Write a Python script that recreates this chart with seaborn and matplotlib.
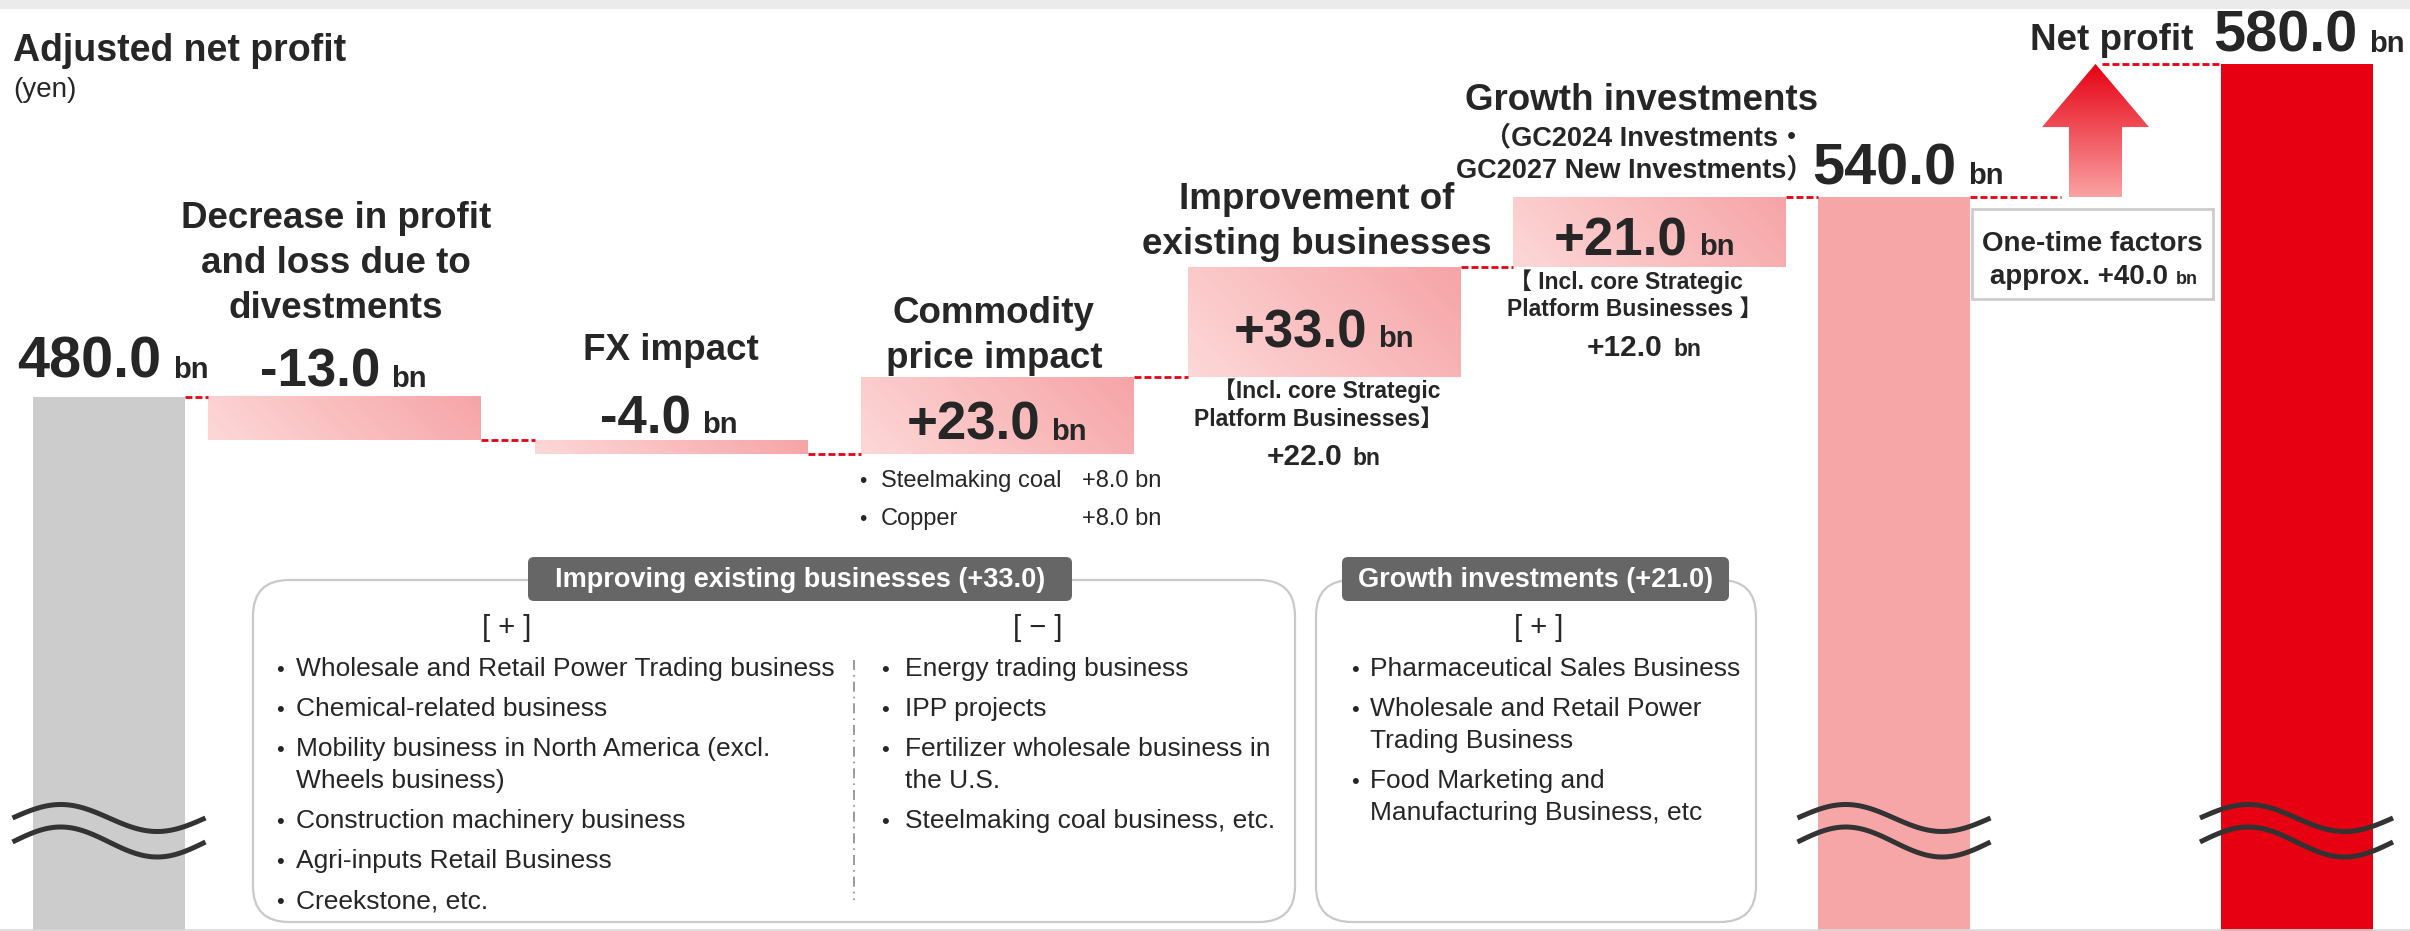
import numpy as np
import pandas as pd
import matplotlib
matplotlib.use("Agg")
import matplotlib.pyplot as plt
from matplotlib.patches import Rectangle, Polygon, FancyBboxPatch
import seaborn as sns

# ---- data (bn yen) ----
start_value = 480.0
step_labels = ["Decrease in profit\nand loss due to\ndivestments", "FX impact",
               "Commodity\nprice impact", "Improvement of\nexisting businesses",
               "Growth investments"]
step_values = [-13.0, -4.0, 23.0, 33.0, 21.0]
mid_value = 540.0
one_time_value = 40.0
end_value = 580.0

commodity_items = ["Steelmaking coal", "Copper"]
commodity_values = [8.0, 8.0]
core_platform_values = [22.0, 12.0]   # improvement / growth investments

improving_plus = ["Wholesale and Retail Power Trading business",
                  "Chemical-related business",
                  "Mobility business in North America (excl.\nWheels business)",
                  "Construction machinery business",
                  "Agri-inputs Retail Business",
                  "Creekstone, etc."]
improving_minus = ["Energy trading business",
                   "IPP projects",
                   "Fertilizer wholesale business in\nthe U.S.",
                   "Steelmaking coal business, etc."]
growth_plus = ["Pharmaceutical Sales Business",
               "Wholesale and Retail Power\nTrading Business",
               "Food Marketing and\nManufacturing Business, etc"]

# ---- layout / style ----
W, H = 2410, 931
TXT = "#262626"
RED = "#e60012"
PINK = "#f7a6a8"
GRAY = "#cccccc"
LO = np.array([253, 216, 216]) / 255
HI = np.array([246, 164, 166]) / 255
YLIM = (319.6, 599.2)
PPU = H / (YLIM[1] - YLIM[0])

total_x = [109, 1894, 2296.5]
total_w = 152
step_left = [208, 535, 861, 1188, 1513]
step_w = 273
arrow_x = 2095.5


def ypx(v):
    # pixel row (from top) of a value on the bar axis, used to hang labels on bars
    return (YLIM[1] - v) * PPU


sns.set_theme(style="white")
plt.rcParams["font.family"] = ["Liberation Sans", "Noto Sans CJK JP"]

fig = plt.figure(figsize=(W / 100, H / 100), dpi=100)
ax = fig.add_axes([0, 0, 1, 1])

# total bars
totals = pd.DataFrame({"x": total_x,
                       "value": [start_value, mid_value, end_value],
                       "kind": ["start", "mid", "end"]})
gap = min(np.diff(sorted(total_x)))
sns.barplot(data=totals, x="x", y="value", hue="kind", native_scale=True,
            palette={"start": GRAY, "mid": PINK, "end": RED}, width=total_w / gap,
            dodge=False, legend=False, errorbar=None, saturation=1, linewidth=0, ax=ax)


def gradient(x0, x1, y0, y1, lo, hi, diag=True, clip=None):
    nx = max(int(abs(x1 - x0)), 2)
    ny = max(int(abs(y1 - y0) * PPU), 2)
    gx = np.linspace(0, nx, nx)[None, :]
    gy = np.linspace(0, ny, ny)[:, None]
    g = (gx + gy) / (nx + ny) if diag else gy / ny + 0 * gx
    img = lo + (hi - lo) * g[..., None]
    im = ax.imshow(img, extent=[x0, x1, min(y0, y1), max(y0, y1)], origin="lower",
                   aspect="auto", interpolation="bilinear", zorder=3)
    if clip is not None:
        im.set_clip_path(clip)


# step bars
levels = start_value + np.concatenate([[0], np.cumsum(step_values)])
ax.bar(step_left, step_values, bottom=levels[:-1], width=step_w, align="edge",
       color=PINK, linewidth=0, zorder=2)
for x0, b, v in zip(step_left, levels[:-1], step_values):
    gradient(x0, x0 + step_w, b, b + v, LO, HI)

# one-time factors arrow
head_base = end_value - 0.474 * one_time_value
hw, sw = 107, 53
arrow = Polygon([(arrow_x - sw / 2, mid_value), (arrow_x + sw / 2, mid_value),
                 (arrow_x + sw / 2, head_base), (arrow_x + hw / 2, head_base),
                 (arrow_x, end_value), (arrow_x - hw / 2, head_base),
                 (arrow_x - sw / 2, head_base)], closed=True, fc="none", ec="none")
ax.add_patch(arrow)
gradient(arrow_x - hw / 2, arrow_x + hw / 2, mid_value, end_value,
         np.array([250, 162, 162]) / 255, np.array([230, 0, 18]) / 255, diag=False, clip=arrow)

# dashed connectors
dash = dict(color=RED, lw=2, ls=(0, (2.5, 1.1)), zorder=4)
rights = [total_x[0] + total_w / 2] + [x + step_w for x in step_left]
lefts = step_left + [total_x[1] - total_w / 2]
for r, l, lv in zip(rights, lefts, levels):
    ax.plot([r, l], [lv, lv], **dash)
ax.plot([total_x[1] + total_w / 2, arrow_x - sw / 2 - 8], [mid_value] * 2, **dash)
ax.plot([arrow_x + 6, total_x[2] - total_w / 2], [end_value] * 2, **dash)

ax.set_xlim(0, W)
ax.set_ylim(*YLIM)
ax.axis("off")

# ---- overlay in pixel units for annotations ----
ov = fig.add_axes([0, 0, 1, 1], facecolor="none")
ov.set_xlim(0, W)
ov.set_ylim(H, 0)
ov.axis("off")

ov.add_patch(Rectangle((0, 0), W, 9, color="#ebebeb", lw=0))
ov.plot([0, W], [929.5, 929.5], color="#d9d9d9", lw=1.2)


def put(x, y, s, size, weight="normal", ha="center", color=TXT, dy=45):
    for i, line in enumerate(s.split("\n")):
        ov.text(x, y + i * dy, line, fontsize=size, fontweight=weight, ha=ha,
                va="baseline", color=color)


def amount(xr, y, s, size, bn_size, gap=11):
    ov.text(xr, y, s, fontsize=size, fontweight="bold", ha="right", va="baseline", color=TXT)
    ov.text(xr + gap, y, "bn", fontsize=bn_size, fontweight="bold", ha="left",
            va="baseline", color=TXT)


put(13, 61, "Adjusted net profit", 27, "bold", ha="left")
put(13, 97, "(yen)", 20, ha="left")

tops = [max(a, b) for a, b in zip(levels[:-1], levels[1:])]
bots = [min(a, b) for a, b in zip(levels[:-1], levels[1:])]

# category labels (offset from bar tops)
label_pos = [(336, -169), (671, -80), (994, -54), (1317, -58), (1642, -87)]
for (x, off), s, t in zip(label_pos, step_labels, tops):
    put(x, ypx(t) + off, s, 26.5, "bold")
put(1645, ypx(tops[4]) - 52, "（GC2024 Investments・", 19.5, "bold")
put(1635, ypx(tops[4]) - 20, "GC2027 New Investments）", 19.5, "bold")

# step amounts
value_pos = [(380, -10), (691, -7), (1040, 63), (1367, 80), (1688, 58)]
for (x, off), v, t in zip(value_pos, step_values, tops):
    amount(x, ypx(t) + off, f"{v:+.1f}", 38, 21)

# totals
amount(161, ypx(start_value) - 19, f"{start_value:.1f}", 41.5, 21, gap=12)
amount(1956, ypx(mid_value) - 13, f"{mid_value:.1f}", 41.5, 21, gap=12)
amount(2357, 52, f"{end_value:.1f}", 41.5, 21, gap=12)
put(2030, 50, "Net profit", 26.5, "bold", ha="left")

# core strategic platform breakdown
b = ypx(bots[3])
put(1327, b + 21, "【Incl. core Strategic", 16.5, "bold")
put(1318, b + 49, "Platform Businesses】", 16.5, "bold")
amount(1343, b + 88, f"{core_platform_values[0]:+.1f}", 21.5, 16.5, gap=9)
b = ypx(bots[4])
put(1626, b + 22, "【 Incl. core Strategic", 16.5, "bold")
put(1635, b + 49, "Platform Businesses 】", 16.5, "bold")
amount(1663, b + 89, f"{core_platform_values[1]:+.1f}", 21.5, 16.5, gap=10)

# commodity breakdown
b = ypx(bots[2])
for i, (name, v) in enumerate(zip(commodity_items, commodity_values)):
    y = b + 33 + 38 * i
    put(859, y, "•", 15, ha="left")
    put(881, y, name, 17, ha="left")
    put(1161, y, f"{v:+.1f} bn", 17, ha="right")

# one-time factors box
b = ypx(mid_value)
ov.add_patch(Rectangle((1972, b + 12), 241, 90, fc="white", ec="#cccccc", lw=2))
put(2092, b + 54, "One-time factors", 20, "bold")
put(2168, b + 87, f"approx. {one_time_value:+.1f}", 20, "bold", ha="right")
put(2176, b + 87, "bn", 13, "bold", ha="left")

# detail boxes
for (x0, x1) in [(253, 1295), (1316, 1756)]:
    ov.add_patch(FancyBboxPatch((x0, 580), x1 - x0, 342,
                                boxstyle="round,pad=0,rounding_size=36",
                                fc="white", ec="#c9c9c9", lw=1.6))
for (x0, x1), title in [((528, 1072), "Improving existing businesses (+33.0)"),
                        ((1342, 1729), "Growth investments (+21.0)")]:
    ov.add_patch(FancyBboxPatch((x0, 557), x1 - x0, 44,
                                boxstyle="round,pad=0,rounding_size=6",
                                fc="#666666", ec="none"))
    put((x0 + x1) / 2, 587, title, 19.5, "bold", color="white")

put(507, 636, "[ + ]", 21)
put(1038, 636, "[ − ]", 21)
put(1539, 636, "[ + ]", 21)
ov.plot([854, 854], [660, 900], color="#8a8a8a", lw=1.2, ls=(0, (6, 3, 1, 3)))


def bullet_list(items, xb, xt, y, size=19, item_dy=40, wrap_dy=32):
    for it in items:
        put(xb, y + 9, "•", size - 3, ha="left")
        for part in it.split("\n"):
            put(xt, y + 9, part, size, ha="left")
            y += wrap_dy
        y += item_dy - wrap_dy


bullet_list(improving_plus, 276, 296, 667)
bullet_list(improving_minus, 881, 905, 667)
bullet_list(growth_plus, 1351, 1370, 667)

# axis break marks
t = np.linspace(0, 2 * np.pi, 120)
wx = t / (2 * np.pi) * 193 - 96.5
for cx in total_x:
    for mid, amp in [(818, 13.5), (842, 15)]:
        ov.plot(cx + wx, mid - amp * np.sin(t), color="#333333", lw=3.6,
                solid_capstyle="butt")

fig.savefig("out.png", dpi=100)
